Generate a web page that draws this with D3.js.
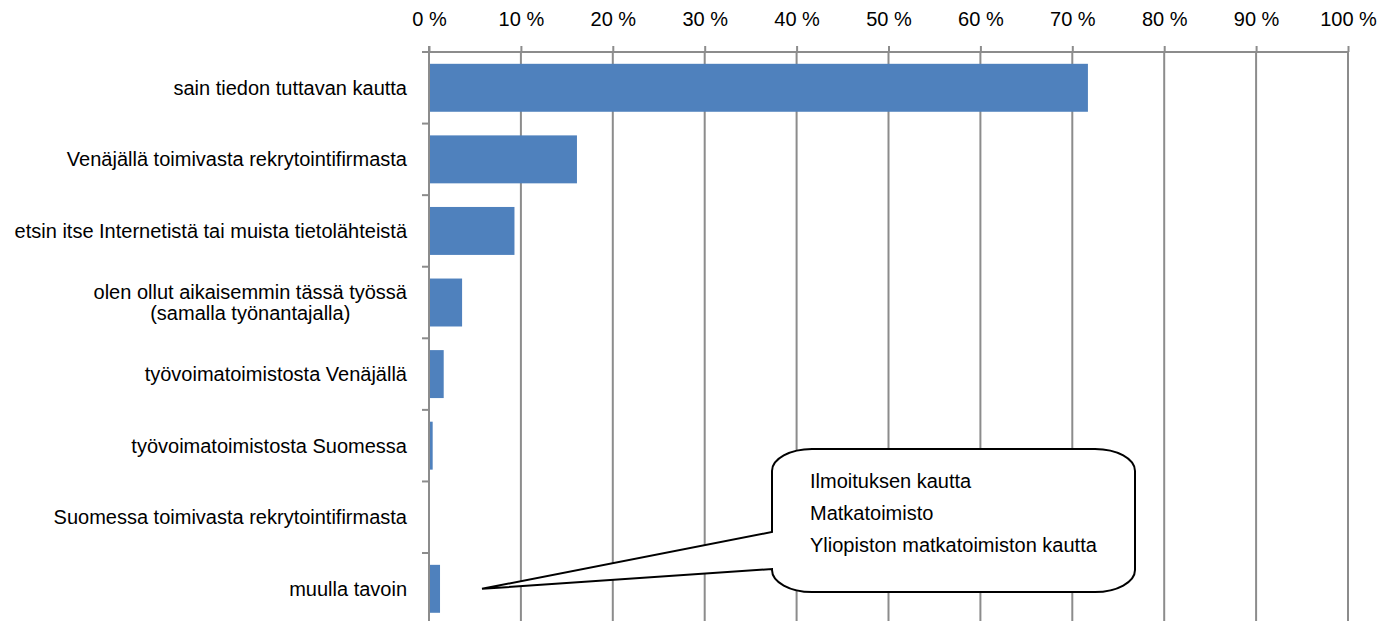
<!DOCTYPE html>
<html>
<head>
<meta charset="utf-8">
<script src="https://cdn.jsdelivr.net/npm/d3@7"></script>
<style>
  html, body { margin: 0; padding: 0; background: #fff; }
  svg { display: block; font-family: "Liberation Sans", Arial, sans-serif; }
</style>
</head>
<body>
<svg id="chart" width="1377" height="621"></svg>
<script>
const categories = [
  ["sain tiedon tuttavan kautta"],
  ["Venäjällä toimivasta rekrytointifirmasta"],
  ["etsin itse Internetistä tai muista tietolähteistä"],
  ["olen ollut aikaisemmin tässä työssä", "(samalla työnantajalla)"],
  ["työvoimatoimistosta Venäjällä"],
  ["työvoimatoimistosta Suomessa"],
  ["Suomessa toimivasta rekrytointifirmasta"],
  ["muulla tavoin"]
];
const values = [71.7, 16.1, 9.3, 3.6, 1.6, 0.4, 0, 1.2];
const tickValues = [0, 10, 20, 30, 40, 50, 60, 70, 80, 90, 100];
const calloutLines = ["Ilmoituksen kautta", "Matkatoimisto", "Yliopiston matkatoimiston kautta"];

(function () {
const svg = d3.select("#chart");
const W = 1377, H = 621;
const mLeft = 429, mRight = 1348, mTop = 52, mBottom = 624.6;
const FS = 20;

const keys = categories.map((c, i) => i);
const x = d3.scaleLinear().domain([0, 100]).range([mLeft, mRight]);
const y = d3.scaleBand().domain(keys).range([mTop, mBottom]).paddingInner(0.33).paddingOuter(0.165);
const step = y.step();

const gridColor = "#8c8c8c";

// gridlines
svg.append("g").selectAll("line").data(tickValues.filter(d => d > 0)).join("line")
  .attr("x1", d => x(d)).attr("x2", d => x(d))
  .attr("y1", mTop).attr("y2", H)
  .attr("stroke", gridColor).attr("stroke-width", 2);

// top axis
const xAxis = d3.axisTop(x).tickValues(tickValues).tickSize(6).tickPadding(20)
  .tickFormat(d => d + " %");
const gx = svg.append("g").attr("transform", `translate(0,${mTop})`).call(xAxis);
gx.select(".domain").attr("stroke", gridColor).attr("stroke-width", 2).attr("d", `M${mLeft},0H${mRight}`);
gx.selectAll(".tick line").attr("stroke", gridColor).attr("stroke-width", 2);
gx.selectAll(".tick text").attr("fill", "#000").attr("font-size", FS)
  .attr("font-family", "'Liberation Sans', Arial, sans-serif");

// bars
svg.append("g").selectAll("rect").data(values).join("rect")
  .attr("x", x(0))
  .attr("y", (d, i) => y(i))
  .attr("width", d => x(d) - x(0))
  .attr("height", y.bandwidth())
  .attr("fill", "#4F81BD");

// left axis line
svg.append("line").attr("x1", mLeft).attr("x2", mLeft).attr("y1", mTop - 6).attr("y2", H)
  .attr("stroke", gridColor).attr("stroke-width", 2);
// left ticks at band boundaries
const boundaries = keys.map(i => y(i) - step * 0.33 / 2).concat([y(keys.length - 1) + y.bandwidth() + step * 0.33 / 2]);
svg.append("g").selectAll("line").data(boundaries).join("line")
  .attr("x1", mLeft - 7).attr("x2", mLeft)
  .attr("y1", d => d).attr("y2", d => d)
  .attr("stroke", gridColor).attr("stroke-width", 2);

// category labels
const labelRight = 407;
const lineH = 21;
const lg = svg.append("g");
categories.forEach((lines, i) => {
  const cy = y(i) + y.bandwidth() / 2;
  const t = lg.append("text").attr("font-size", FS).attr("fill", "#000")
    .attr("text-anchor", "middle");
  lines.forEach((ln, j) => {
    t.append("tspan").text(ln)
      .attr("dy", j === 0 ? (-(lines.length - 1) / 2 * lineH + 7) : lineH);
  });
  let maxW = 0;
  t.selectAll("tspan").each(function () { maxW = Math.max(maxW, this.getComputedTextLength()); });
  const cx = labelRight - maxW / 2;
  t.attr("y", cy);
  t.selectAll("tspan").attr("x", cx);
});

// callout
const bx0 = 772, bx1 = 1135, by0 = 449, by1 = 592, rx = 40, ry = 22;
const tipX = 482, tipY = y(keys.length - 1) + y.bandwidth() / 2;
const attachTop = 532, attachBot = 569;
const p = d3.path();
p.moveTo(bx0, attachTop);
p.lineTo(bx0, by0 + ry);
p.bezierCurveTo(bx0, by0 + ry * 0.45, bx0 + rx * 0.45, by0, bx0 + rx, by0);
p.lineTo(bx1 - rx, by0);
p.bezierCurveTo(bx1 - rx * 0.45, by0, bx1, by0 + ry * 0.45, bx1, by0 + ry);
p.lineTo(bx1, by1 - ry);
p.bezierCurveTo(bx1, by1 - ry * 0.45, bx1 - rx * 0.45, by1, bx1 - rx, by1);
p.lineTo(bx0 + rx, by1);
p.bezierCurveTo(bx0 + rx * 0.45, by1, bx0, by1 - ry * 0.45, bx0, by1 - ry);
p.lineTo(bx0, attachBot);
p.lineTo(tipX, tipY);
p.closePath();
svg.append("path").attr("d", p.toString()).attr("fill", "#fff")
  .attr("stroke", "#000").attr("stroke-width", 2).attr("stroke-linejoin", "miter");

svg.append("g").selectAll("text").data(calloutLines).join("text")
  .attr("x", 810).attr("y", (d, i) => 488 + i * 32.2)
  .attr("font-size", FS).attr("fill", "#000").text(d => d);
})();
</script>
</body>
</html>
